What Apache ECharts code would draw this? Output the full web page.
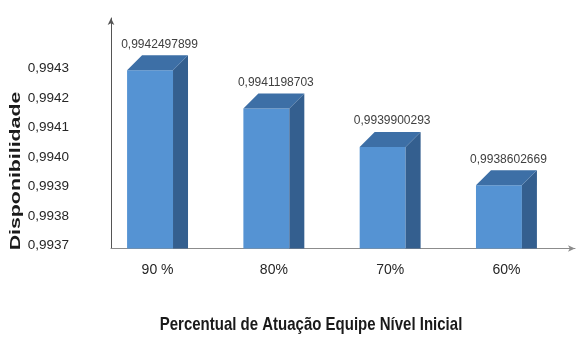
<!DOCTYPE html>
<html>
<head>
<meta charset="utf-8">
<script src="https://cdn.jsdelivr.net/npm/echarts@6/dist/echarts.min.js"></script>
<style>
  html, body { margin: 0; padding: 0; background: #ffffff; }
  #chart { width: 577px; height: 338px; }
</style>
</head>
<body>
<div id="chart"></div>
<script>
// Availability for each share of work done by the entry-level team
const categories = ['90 %', '80%', '70%', '60%'];
const availability = [0.9942497899, 0.9941198703, 0.9939900293, 0.9938602669];

// Value-axis tick labels shown on the left
const yTicks = [0.9937, 0.9938, 0.9939, 0.9940, 0.9941, 0.9942, 0.9943];

// Value range covered by the columns, from the floor up to the axis arrow
const axisFloor = 0.99364567;
const axisCeil = 0.99442703;

const yAxisTitle = 'Disponibilidade';
const xAxisTitle = 'Percentual de Atuação Equipe Nível Inicial';

const SANS = '"Liberation Sans", Arial, sans-serif';

const FRONT = '#5593d3';
const SIDE = '#345f8f';
const TOP = '#3d6fa6';

const fmt = (v, d) => v.toFixed(d).replace('.', ',');

const chart = echarts.init(document.getElementById('chart'), null, { renderer: 'canvas' });

// Each column is drawn as a box: front face, right side and top face
function renderColumn(params, api) {
  const idx = api.value(0);
  const val = api.value(1);
  const top = api.coord([idx, val]);
  const base = api.coord([idx, axisFloor]);
  const band = api.size([1, 0])[0];
  const c = top[0];
  const fl = c - band * 0.262;
  const fr = c + band * 0.133;
  const d = band * 0.129;
  const ty = top[1];
  const by = base[1];
  return {
    type: 'group',
    children: [
      { type: 'rect', shape: { x: fl, y: ty, width: fr - fl, height: by - ty }, style: { fill: FRONT } },
      { type: 'polygon', shape: { points: [[fr, ty], [fr + d, ty - d], [fr + d, by], [fr, by]] }, style: { fill: SIDE } },
      { type: 'polygon', shape: { points: [[fl, ty], [fl + d, ty - d], [fr + d, ty - d], [fr, ty]] }, style: { fill: TOP } },
      {
        type: 'text', x: c + 2, y: ty - 26,
        style: {
          text: fmt(val, 10), textAlign: 'center', textVerticalAlign: 'middle',
          font: '12px ' + SANS, fill: '#404040'
        }
      }
    ]
  };
}

const hidden = { show: false };

chart.setOption({
  animation: false,
  backgroundColor: '#ffffff',
  grid: [
    // columns and category labels
    { left: 99.4, right: 12.4, top: 18, bottom: 89.5 },
    // axis lines with arrows
    { left: 111, right: 2, top: 18, bottom: 89.5 },
    // value tick labels
    { left: 111, right: 2, top: 68.5, bottom: 92.5 }
  ],
  xAxis: [
    {
      gridIndex: 0, type: 'category', data: categories,
      axisLine: hidden, axisTick: hidden, splitLine: hidden,
      axisLabel: { margin: 15, color: '#262626', fontFamily: SANS, fontSize: 14 }
    },
    {
      gridIndex: 1, type: 'value', min: 0, max: 1,
      axisLine: { show: true, onZero: false, symbol: ['none', 'arrow'], symbolSize: [5, 7], lineStyle: { color: '#8c8c8c', width: 1 } },
      axisTick: hidden, axisLabel: hidden, splitLine: hidden
    },
    {
      gridIndex: 2, type: 'value', min: 0, max: 1,
      axisLine: hidden, axisTick: hidden, axisLabel: hidden, splitLine: hidden
    }
  ],
  yAxis: [
    {
      gridIndex: 0, type: 'value', min: axisFloor, max: axisCeil,
      axisLine: hidden, axisTick: hidden, axisLabel: hidden, splitLine: hidden
    },
    {
      gridIndex: 1, type: 'value', min: 0, max: 1,
      axisLine: { show: true, onZero: false, symbol: ['none', 'arrow'], symbolSize: [5, 7], lineStyle: { color: '#555555', width: 1 } },
      axisTick: hidden, axisLabel: hidden, splitLine: hidden
    },
    {
      gridIndex: 2, type: 'value', min: yTicks[0], max: yTicks[yTicks.length - 1], interval: 0.0001,
      axisLine: hidden, axisTick: hidden, splitLine: hidden,
      axisLabel: {
        margin: 42, color: '#262626', fontFamily: SANS, fontSize: 13.5,
        formatter: v => fmt(v, 4)
      }
    }
  ],
  graphic: [
    {
      type: 'text', x: 16, y: 171, rotation: Math.PI / 2, scaleX: 1.42,
      style: {
        text: yAxisTitle, textAlign: 'center', textVerticalAlign: 'middle',
        font: 'bold 15px ' + SANS, fill: '#1a1a1a'
      }
    },
    {
      type: 'text', x: 311, y: 325, scaleY: 1.24,
      style: {
        text: xAxisTitle, textAlign: 'center', textVerticalAlign: 'middle',
        font: 'bold 15px ' + SANS, fill: '#1a1a1a'
      }
    }
  ],
  series: [
    {
      type: 'custom',
      xAxisIndex: 0, yAxisIndex: 0,
      renderItem: renderColumn,
      data: availability.map((v, i) => [i, v])
    }
  ]
});
</script>
</body>
</html>
